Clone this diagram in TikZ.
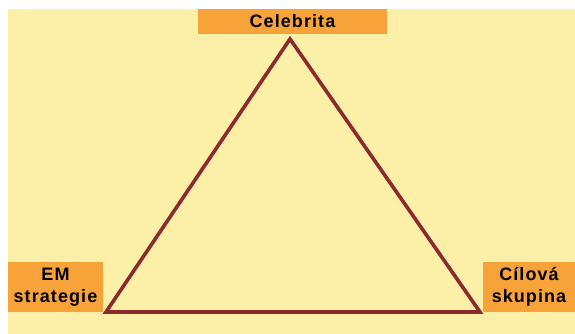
\documentclass[tikz,border=0pt]{standalone}
\usepackage{fontspec}
\setmainfont{Liberation Sans}
\definecolor{bgyellow}{HTML}{FCF0A8}
\definecolor{boxorange}{HTML}{F8A33A}
\definecolor{edgered}{HTML}{8B2B2E}
\begin{document}
\begin{tikzpicture}[x=1pt,y=-1pt,
  label box/.style={fill=boxorange,draw=none,inner sep=0pt,align=center,
    font=\fontsize{18}{22}\selectfont\bfseries\addfontfeatures{LetterSpace=6},text=black},
  edge/.style={draw=edgered,line width=3.6pt,line join=miter}]
\useasboundingbox (0,0) rectangle (575,334);
\fill[white] (0,0) rectangle (575,334);
\fill[bgyellow] (8,9) rectangle (575,334);
\node[label box,minimum width=189pt,minimum height=25pt] (celeb) at (292.5,21.5) {Celebrita};
\node[label box,minimum width=95pt,minimum height=50pt] (em) at (55.5,287) {EM\\strategie};
\node[label box,minimum width=92pt,minimum height=50pt] (cil) at (529,287) {Cílová\\skupina};
\coordinate (top) at (290,39);
\coordinate (left) at (106,312);
\coordinate (right) at (480,312);
\draw[edge] (top) -- (left) -- (right) -- cycle;
\end{tikzpicture}
\end{document}
